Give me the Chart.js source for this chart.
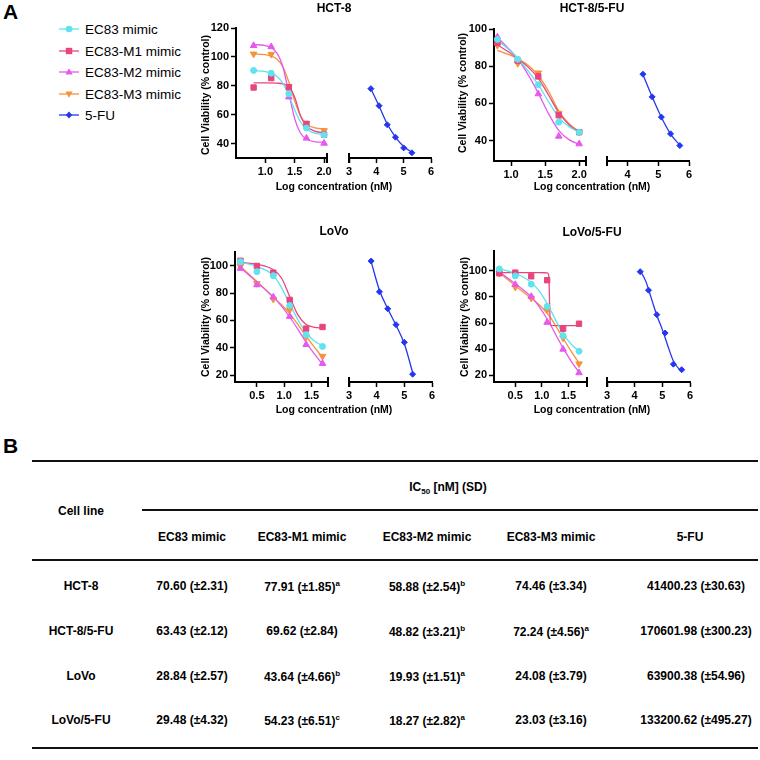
<!DOCTYPE html>
<html>
<head>
<meta charset="utf-8">
<script src="https://cdn.jsdelivr.net/npm/chart.js@4.4.1/dist/chart.umd.min.js"></script>
<style>
  body { margin: 0; background: #fff; font-family: "Liberation Sans", Arial, sans-serif; color: #000; }
  #page { position: relative; width: 760px; height: 760px; overflow: hidden; }
  canvas { position: absolute; }
  .t { position: absolute; white-space: nowrap; font-weight: bold; transform: translate(-50%, -50%); }
  .yt { transform: translate(-50%, -50%) rotate(-90deg); }
  .lab { position: absolute; font-weight: bold; font-size: 21px; }
  .leg { position: absolute; left: 58px; height: 16px; display: flex; align-items: center; font-size: 13.5px; }
  .leg svg { margin-right: 5px; }
  .rule { position: absolute; height: 2px; background: #111; }
  .cell { position: absolute; white-space: nowrap; font-weight: bold; font-size: 12px; transform: translate(-50%, -50%); }
  sup { font-size: 8px; }
  sub { font-size: 8px; }
</style>
</head>
<body>
<div id="page"></div>
<script>
// ---------- data ----------
const seriesNames = ['EC83 mimic', 'EC83-M1 mimic', 'EC83-M2 mimic', 'EC83-M3 mimic', '5-FU'];

// HCT-8
const hct8Dose = [0.8, 1.1, 1.4, 1.7, 2.0];
const hct8Ec83 = [90.6, 88.7, 74.3, 50.8, 46.0];
const hct8M1 = [78.8, 85.3, 79.0, 53.6, 46.2];
const hct8M2 = [107.8, 107.0, 72.2, 43.7, 40.2];
const hct8M3 = [102.0, 101.8, 79.5, 54.0, 49.0];
const hct8FuDose = [3.8, 4.1, 4.4, 4.7, 5.0, 5.3];
const hct8Fu = [78.0, 66.2, 53.0, 44.4, 37.0, 33.6];
const hct8CurveX = [0.8, 1.0, 1.2, 1.3, 1.4, 1.5, 1.6, 1.7, 1.85, 2.0];
const hct8CurveEc83 = [90.4, 89.8, 86.5, 81.6, 73.3, 63.2, 54.9, 50.0, 47.1, 46.3];
const hct8CurveM1 = [82.0, 82.0, 81.8, 81.4, 79.5, 72.0, 59.0, 52.0, 48.5, 47.5];
const hct8CurveM2 = [108.5, 107.8, 102.4, 92.8, 74.8, 57.2, 47.1, 43.1, 41.2, 41.0];
const hct8CurveM3 = [102.0, 101.5, 98.4, 93.0, 82.6, 69.4, 59.1, 53.6, 50.8, 50.2];
const hct8FuCurveX = [3.8, 4.1, 4.4, 4.7, 5.0, 5.3];
const hct8FuCurve = [78.0, 66.0, 53.5, 44.5, 38.0, 34.0];

// HCT-8/5-FU
const hct8rDose = [0.8, 1.1, 1.4, 1.7, 2.0];
const hct8rEc83 = [94.4, 83.7, 70.0, 49.9, 44.5];
const hct8rM1 = [92.5, 83.0, 74.5, 53.6, 44.5];
const hct8rM2 = [95.7, 83.0, 65.1, 42.3, 38.2];
const hct8rM3 = [91.2, 81.5, 76.4, 54.7, 44.5];
const hct8rFuDose = [4.5, 4.8, 5.1, 5.4, 5.7];
const hct8rFu = [75.7, 63.5, 52.6, 43.6, 37.3];
const hct8rCurveX = [0.8, 0.95, 1.1, 1.25, 1.4, 1.55, 1.7, 1.85, 2.0];
const hct8rCurveEc83 = [94.0, 89.5, 84.0, 77.5, 70.0, 61.0, 52.5, 47.5, 44.5];
const hct8rCurveM1 = [91.5, 88.0, 84.0, 79.5, 73.5, 64.5, 55.0, 48.5, 44.5];
const hct8rCurveM2 = [95.5, 90.0, 84.0, 75.5, 65.5, 54.5, 45.5, 40.5, 38.0];
const hct8rCurveM3 = [88.5, 86.5, 84.0, 80.5, 75.0, 66.5, 56.0, 49.0, 45.0];
const hct8rFuCurveX = [4.5, 4.8, 5.1, 5.4, 5.7];
const hct8rFuCurve = [75.5, 63.5, 52.5, 43.5, 37.5];

// LoVo
const lovoDose = [0.2, 0.5, 0.8, 1.1, 1.4, 1.7];
const lovoEc83 = [102.9, 95.6, 92.7, 70.9, 49.6, 41.0];
const lovoM1 = [103.6, 99.8, 94.9, 75.0, 54.0, 55.2];
const lovoM2 = [98.0, 86.0, 77.0, 62.9, 42.3, 28.5];
const lovoM3 = [99.5, 87.0, 75.5, 67.8, 48.0, 33.8];
const lovoFuDose = [3.8, 4.1, 4.4, 4.7, 5.0, 5.3];
const lovoFu = [103.4, 80.9, 68.5, 56.9, 44.0, 20.7];
const lovoCurveX = [0.2, 0.5, 0.8, 0.95, 1.1, 1.25, 1.4, 1.55, 1.7];
const lovoCurveEc83 = [102.5, 99.5, 93.0, 84.0, 72.0, 60.5, 51.0, 45.0, 41.5];
const lovoCurveM1 = [102.5, 101.0, 97.0, 91.0, 77.5, 64.0, 57.0, 55.0, 54.5];
const lovoCurveM2 = [98.5, 88.0, 77.0, 70.5, 62.5, 53.5, 44.0, 35.5, 28.0];
const lovoCurveM3 = [99.5, 88.5, 77.0, 71.5, 65.0, 57.0, 48.5, 40.5, 33.0];
const lovoFuCurveX = [3.8, 4.1, 4.4, 4.7, 5.0, 5.3];
const lovoFuCurve = [103.0, 82.0, 68.5, 56.5, 43.0, 22.0];

// LoVo/5-FU
const lovorDose = [0.2, 0.5, 0.8, 1.1, 1.4, 1.7];
const lovorEc83 = [101.3, 96.0, 89.7, 72.7, 50.4, 38.5];
const lovorM1 = [98.0, 98.5, 95.7, 92.7, 55.7, 59.5];
const lovorM2 = [98.2, 89.4, 80.3, 60.5, 40.0, 22.0];
const lovorM3 = [98.0, 87.4, 79.0, 70.0, 48.6, 28.9];
const lovorFuDose = [4.2, 4.5, 4.8, 5.1, 5.4, 5.7];
const lovorFu = [99.2, 85.1, 66.4, 52.4, 28.6, 24.4];
const lovorCurveX = [0.2, 0.5, 0.8, 0.95, 1.1, 1.13, 1.16, 1.25, 1.4, 1.55, 1.7];
const lovorCurveEc83 = [101.5, 98.0, 91.0, 84.5, 75.0, 73.0, 70.5, 63.0, 52.0, 44.0, 38.5];
const lovorCurveM1 = [98.5, 98.5, 98.5, 98.5, 98.3, 96.5, 58.5, 58.0, 58.0, 58.0, 58.0];
const lovorCurveM2 = [99.0, 90.0, 80.0, 72.5, 63.0, 61.0, 59.0, 52.0, 41.0, 31.0, 22.5];
const lovorCurveM3 = [98.5, 88.5, 79.0, 74.0, 67.5, 66.0, 64.5, 58.5, 48.5, 38.5, 29.5];
const lovorFuCurveX = [4.2, 4.4, 4.6, 4.8, 5.0, 5.2, 5.4, 5.6, 5.7];
const lovorFuCurve = [100.0, 92.0, 79.0, 66.0, 55.0, 42.5, 31.0, 25.0, 23.5];

// axis ticks
const yTicksHct8 = [40, 60, 80, 100, 120];
const yTicksHct8r = [40, 60, 80, 100];
const yTicksLovo = [20, 40, 60, 80, 100];
const xTicksHct8 = [1.0, 1.5, 2.0];
const xTicksLovo = [0.5, 1.0, 1.5];
const xTicksFu = [3, 4, 5, 6];
const xTicksFuR = [4, 5, 6];

// table B
const cellLines = ['HCT-8', 'HCT-8/5-FU', 'LoVo', 'LoVo/5-FU'];
const ic50Ec83 = [70.60, 63.43, 28.84, 29.48];
const sdEc83 = [2.31, 2.12, 2.57, 4.32];
const supEc83 = ['', '', '', ''];
const ic50M1 = [77.91, 69.62, 43.64, 54.23];
const sdM1 = [1.85, 2.84, 4.66, 6.51];
const supM1 = ['a', '', 'b', 'c'];
const ic50M2 = [58.88, 48.82, 19.93, 18.27];
const sdM2 = [2.54, 3.21, 1.51, 2.82];
const supM2 = ['b', 'b', 'a', 'a'];
const ic50M3 = [74.46, 72.24, 24.08, 23.03];
const sdM3 = [3.34, 4.56, 3.79, 3.16];
const supM3 = ['', 'a', '', ''];
const ic50Fu = [41400.23, 170601.98, 63900.38, 133200.62];
const sdFu = [30.63, 300.23, 54.96, 495.27];
const supFu = ['', '', '', ''];

// ---------- styling ----------
const colors = ['#5fe3ee', '#e8447f', '#e658ee', '#f5923a', '#2437f0'];
const shapes = [
  { pointStyle: 'circle', radius: 3, rotation: 0 },
  { pointStyle: 'rect', radius: 3.8, rotation: 0 },
  { pointStyle: 'triangle', radius: 3.8, rotation: 0 },
  { pointStyle: 'triangle', radius: 3.8, rotation: 180 },
  { pointStyle: 'rectRot', radius: 3, rotation: 0 }
];
const FONT = '"Liberation Sans", Arial, sans-serif';
const page = document.getElementById('page');

function pts(xs, ys) { return xs.map((x, i) => ({ x, y: ys[i] })); }

function pointSet(k, xs, ys) {
  return {
    data: pts(xs, ys), showLine: false, order: 0, clip: false,
    pointStyle: shapes[k].pointStyle, pointRadius: shapes[k].radius, pointRotation: shapes[k].rotation,
    backgroundColor: colors[k], borderColor: colors[k], borderWidth: 1
  };
}
function curveSet(k, xs, ys) {
  return {
    data: pts(xs, ys), showLine: true, order: 1, pointRadius: 0,
    borderColor: colors[k], borderWidth: 1.3, cubicInterpolationMode: 'monotone'
  };
}

// small vertical bar where the x axis is broken
const breakMark = {
  id: 'breakMark',
  afterDraw(chart, args, opts) {
    const { ctx, chartArea } = chart;
    const x = opts.side === 'left' ? chartArea.right : chartArea.left;
    ctx.save();
    ctx.strokeStyle = '#000';
    ctx.lineWidth = 2;
    ctx.beginPath();
    ctx.moveTo(x, chartArea.bottom - 5);
    ctx.lineTo(x, chartArea.bottom + 5);
    ctx.stroke();
    ctx.restore();
  }
};

function segment(box, side, xMin, xMax, xTicks, dec, yMin, yMax, yTicks, datasets) {
  const padL = side === 'left' ? 40 : 10, padR = 10, padT = 10, padB = 24;
  const cv = document.createElement('canvas');
  cv.width = box.r - box.l + padL + padR;
  cv.height = box.b - box.t + padT + padB;
  cv.style.left = (box.l - padL) + 'px';
  cv.style.top = (box.t - padT) + 'px';
  page.appendChild(cv);
  const tickFont = { family: FONT, size: 11, weight: 'bold' };
  const grid = { display: true, drawOnChartArea: false, drawTicks: true, tickLength: 5, tickWidth: 1.5, tickColor: '#000' };
  new Chart(cv, {
    type: 'scatter',
    data: { datasets },
    options: {
      responsive: false,
      animation: false,
      events: [],
      layout: { autoPadding: false, padding: { left: side === 'left' ? 0 : padL, right: padR, top: padT, bottom: 0 } },
      plugins: { legend: { display: false }, tooltip: { enabled: false }, breakMark: { side } },
      scales: {
        x: {
          type: 'linear', min: xMin, max: xMax,
          afterBuildTicks: s => { s.ticks = xTicks.map(v => ({ value: v })); },
          afterFit: s => { s.height = padB; },
          grid, border: { display: true, color: '#000', width: 2 },
          ticks: { autoSkip: false, maxRotation: 0, padding: 2, color: '#000', font: tickFont, callback: v => v.toFixed(dec) }
        },
        y: {
          type: 'linear', display: side === 'left', min: yMin, max: yMax,
          afterBuildTicks: s => { s.ticks = yTicks.map(v => ({ value: v })); },
          afterFit: s => { s.width = padL; },
          grid, border: { display: true, color: '#000', width: 2 },
          ticks: { autoSkip: false, padding: 2, color: '#000', font: tickFont }
        }
      }
    },
    plugins: [breakMark]
  });
}

function text(str, x, y, size, cls) {
  const d = document.createElement('div');
  d.className = 't ' + (cls || '');
  d.style.left = x + 'px';
  d.style.top = y + 'px';
  d.style.fontSize = size + 'px';
  d.innerHTML = str;
  page.appendChild(d);
}

// one panel = title, two axis segments, axis titles
function panel(p) {
  const mimics = [p.ec83, p.m1, p.m2, p.m3];
  const curves = [p.cEc83, p.cM1, p.cM2, p.cM3];
  const leftSets = mimics.map((ys, k) => pointSet(k, p.dose, ys))
    .concat(curves.map((ys, k) => curveSet(k, p.curveX, ys)));
  const rightSets = [pointSet(4, p.fuDose, p.fu), curveSet(4, p.fuCurveX, p.fuCurve)];
  segment(p.boxL, 'left', p.xL[0], p.xL[1], p.xTicksL, 1, p.yRange[0], p.yRange[1], p.yTicks, leftSets);
  segment(p.boxR, 'right', p.xR[0], p.xR[1], p.xTicksR, 0, p.yRange[0], p.yRange[1], p.yTicks, rightSets);
  text(p.title, p.titlePos[0], p.titlePos[1], 12);
  text('Log concentration (nM)', p.xTitlePos[0], p.xTitlePos[1], 10.5);
  text('Cell Viability (% control)', p.yTitlePos[0], p.yTitlePos[1], 10.5, 'yt');
}

panel({
  title: 'HCT-8', titlePos: [334, 8], xTitlePos: [334, 186], yTitlePos: [205, 95],
  dose: hct8Dose, ec83: hct8Ec83, m1: hct8M1, m2: hct8M2, m3: hct8M3,
  curveX: hct8CurveX, cEc83: hct8CurveEc83, cM1: hct8CurveM1, cM2: hct8CurveM2, cM3: hct8CurveM3,
  fuDose: hct8FuDose, fu: hct8Fu, fuCurveX: hct8FuCurveX, fuCurve: hct8FuCurve,
  boxL: { l: 236, r: 327, t: 28, b: 158 }, boxR: { l: 339, r: 431, t: 28, b: 158 },
  xL: [0.5, 2.05], xR: [3, 6], xTicksL: xTicksHct8, xTicksR: xTicksFu, yRange: [30, 120], yTicks: yTicksHct8
});
panel({
  title: 'HCT-8/5-FU', titlePos: [592, 8], xTitlePos: [592, 186], yTitlePos: [462, 93],
  dose: hct8rDose, ec83: hct8rEc83, m1: hct8rM1, m2: hct8rM2, m3: hct8rM3,
  curveX: hct8rCurveX, cEc83: hct8rCurveEc83, cM1: hct8rCurveM1, cM2: hct8rCurveM2, cM3: hct8rCurveM3,
  fuDose: hct8rFuDose, fu: hct8rFu, fuCurveX: hct8rFuCurveX, fuCurve: hct8rFuCurve,
  boxL: { l: 494, r: 586, t: 29, b: 161 }, boxR: { l: 597, r: 689, t: 29, b: 161 },
  xL: [0.75, 2.1], xR: [3.33, 6], xTicksL: xTicksHct8, xTicksR: xTicksFuR, yRange: [29, 100], yTicks: yTicksHct8r
});
panel({
  title: 'LoVo', titlePos: [334, 231], xTitlePos: [334, 409], yTitlePos: [205, 317],
  dose: lovoDose, ec83: lovoEc83, m1: lovoM1, m2: lovoM2, m3: lovoM3,
  curveX: lovoCurveX, cEc83: lovoCurveEc83, cM1: lovoCurveM1, cM2: lovoCurveM2, cM3: lovoCurveM3,
  fuDose: lovoFuDose, fu: lovoFu, fuCurveX: lovoFuCurveX, fuCurve: lovoFuCurve,
  boxL: { l: 235, r: 328, t: 252, b: 382 }, boxR: { l: 339, r: 432, t: 252, b: 382 },
  xL: [0.1, 1.8], xR: [3, 6], xTicksL: xTicksLovo, xTicksR: xTicksFu, yRange: [15, 110], yTicks: yTicksLovo
});
panel({
  title: 'LoVo/5-FU', titlePos: [592, 232], xTitlePos: [592, 409], yTitlePos: [464, 317],
  dose: lovorDose, ec83: lovorEc83, m1: lovorM1, m2: lovorM2, m3: lovorM3,
  curveX: lovorCurveX, cEc83: lovorCurveEc83, cM1: lovorCurveM1, cM2: lovorCurveM2, cM3: lovorCurveM3,
  fuDose: lovorFuDose, fu: lovorFu, fuCurveX: lovorFuCurveX, fuCurve: lovorFuCurve,
  boxL: { l: 494, r: 587, t: 251, b: 382 }, boxR: { l: 597, r: 690, t: 251, b: 382 },
  xL: [0.1, 1.85], xR: [3, 6], xTicksL: xTicksLovo, xTicksR: xTicksFu, yRange: [15, 115], yTicks: yTicksLovo
});

// ---------- legend ----------
const markerSvg = [
  c => `<circle cx="11" cy="6" r="3.3" fill="${c}"/>`,
  c => `<rect x="7.8" y="2.8" width="6.4" height="6.4" fill="${c}"/>`,
  c => `<polygon points="11,2.2 14.6,8.6 7.4,8.6" fill="${c}"/>`,
  c => `<polygon points="11,9.8 14.6,3.4 7.4,3.4" fill="${c}"/>`,
  c => `<polygon points="11,2.6 14.2,6 11,9.4 7.8,6" fill="${c}"/>`
];
const legendY = [29, 51, 72, 94, 115];
seriesNames.forEach((name, k) => {
  const row = document.createElement('div');
  row.className = 'leg';
  row.style.top = (legendY[k] - 8) + 'px';
  row.innerHTML = `<svg width="22" height="12"><line x1="1" y1="6" x2="21" y2="6" stroke="${colors[k]}" stroke-width="1.3"/>${markerSvg[k](colors[k])}</svg>${name}`;
  page.appendChild(row);
});

// panel letters
const lblA = document.createElement('div'); lblA.className = 'lab'; lblA.style.left = '3px'; lblA.style.top = '0px'; lblA.textContent = 'A'; page.appendChild(lblA);
const lblB = document.createElement('div'); lblB.className = 'lab'; lblB.style.left = '3px'; lblB.style.top = '434px'; lblB.textContent = 'B'; page.appendChild(lblB);

// ---------- table B ----------
function rule(x1, x2, y) {
  const r = document.createElement('div');
  r.className = 'rule';
  r.style.left = x1 + 'px'; r.style.width = (x2 - x1) + 'px'; r.style.top = (y - 1) + 'px';
  page.appendChild(r);
}
function cell(html, x, y) {
  const d = document.createElement('div');
  d.className = 'cell';
  d.style.left = x + 'px'; d.style.top = y + 'px';
  d.innerHTML = html;
  page.appendChild(d);
}
rule(32, 758, 461);
rule(142, 758, 510);
rule(32, 758, 560);
rule(32, 758, 748);

const colX = [81, 192, 302, 427, 551, 696];
const rowY = [586, 631, 676, 720];
cell('IC<sub>50</sub> [nM] (SD)', 448, 488);
cell('Cell line', colX[0], 511);
seriesNames.forEach((name, k) => cell(name, k === 4 ? 690 : colX[k + 1], 537));

const cols = [
  [ic50Ec83, sdEc83, supEc83],
  [ic50M1, sdM1, supM1],
  [ic50M2, sdM2, supM2],
  [ic50M3, sdM3, supM3],
  [ic50Fu, sdFu, supFu]
];
cellLines.forEach((line, i) => {
  cell(line, colX[0], rowY[i]);
  cols.forEach(([m, sd, sup], k) => {
    const s = sup[i] ? `<sup>${sup[i]}</sup>` : '';
    cell(`${m[i].toFixed(2)} (±${sd[i].toFixed(2)})${s}`, colX[k + 1], rowY[i]);
  });
});
</script>
</body>
</html>
